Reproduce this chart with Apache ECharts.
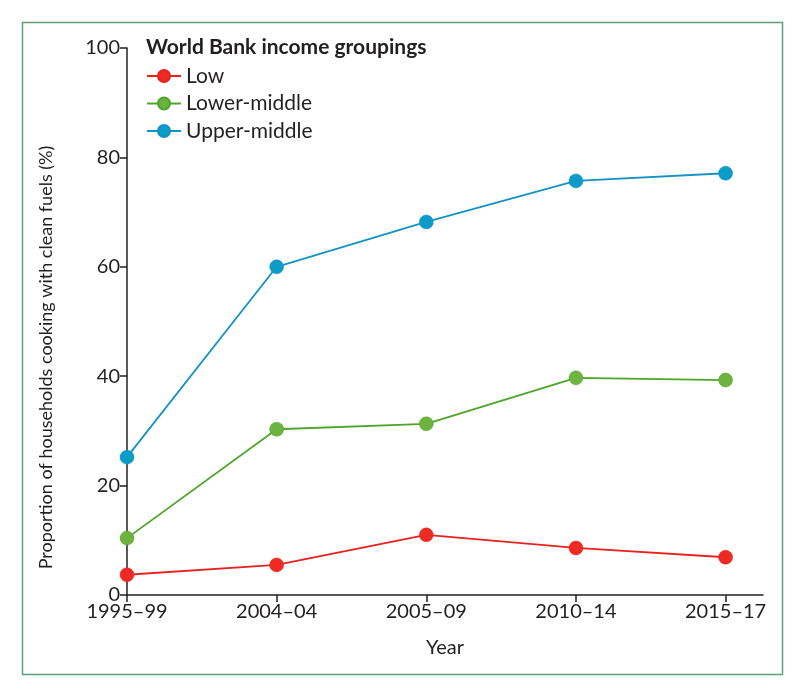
<!DOCTYPE html>
<html>
<head>
<meta charset="utf-8">
<script src="https://cdn.jsdelivr.net/npm/echarts@6/dist/echarts.min.js"></script>
<style>
html,body{margin:0;padding:0;background:#fff;}
#chart{width:800px;height:692px;}
</style>
</head>
<body>
<div id="chart"></div>
<script>
const categories = ['1995–99', '2004–04', '2005–09', '2010–14', '2015–17'];
const lowValues = [3.7, 5.5, 11.0, 8.6, 6.9];
const lowerMiddleValues = [10.4, 30.3, 31.3, 39.7, 39.3];
const upperMiddleValues = [25.2, 60.0, 68.2, 75.7, 77.1];
const yTicks = [0, 20, 40, 60, 80, 100];
const seriesNames = ['Low', 'Lower-middle', 'Upper-middle'];
const legendTitle = 'World Bank income groupings';
const yTitle = 'Proportion of households cooking with clean fuels (%)';
const xTitle = 'Year';

const FONT = 'Lato';
const TXT = '#231f20';

function pts(vals) { return vals.map((v, i) => [i, v]); }

const chart = echarts.init(document.getElementById('chart'), null, {renderer: 'canvas'});
const colors = [
  {line: '#e8221f', fill: '#ee2a24'},
  {line: '#4ea52a', fill: '#6db33f'},
  {line: '#1592c2', fill: '#0b9cc7'}
];
const allVals = [lowValues, lowerMiddleValues, upperMiddleValues];

chart.setOption({
  animation: false,
  graphic: [{
    type: 'rect', left: 20, top: 20,
    shape: {width: 760, height: 652},
    style: {fill: 'none', stroke: '#5e9e7a', lineWidth: 1.5},
    silent: true
  }],
  title: {
    text: legendTitle, left: 141, top: 31.5,
    textStyle: {fontFamily: FONT, fontWeight: 'bold', fontSize: 21, color: TXT}
  },
  legend: {
    orient: 'vertical', left: 141, top: 60.5,
    itemWidth: 34, itemHeight: 15, itemGap: 6.5,
    textStyle: {fontFamily: FONT, fontSize: 21, color: TXT},
    data: seriesNames
  },
  grid: {left: 127, right: 37, top: 48, bottom: 97, containLabel: false},
  xAxis: {
    type: 'value', min: 0, max: 4.25, interval: 1,
    name: xTitle, nameLocation: 'middle', nameGap: 43,
    nameTextStyle: {fontFamily: FONT, fontSize: 20, color: TXT},
    splitLine: {show: false},
    axisLine: {lineStyle: {color: TXT, width: 1.5}},
    axisTick: {show: true, inside: false, length: 7, lineStyle: {color: TXT, width: 1.5},
               customValues: [0, 1, 2, 3, 4]},
    axisLabel: {fontFamily: FONT, fontSize: 20, color: TXT, margin: 7,
                customValues: [0, 1, 2, 3, 4],
                formatter: v => categories[Math.round(v)] || ''}
  },
  yAxis: {
    type: 'value', min: 0, max: 100, interval: 20,
    name: yTitle, nameLocation: 'middle', nameGap: 72,
    nameTextStyle: {fontFamily: FONT, fontSize: 18, color: TXT, padding: [0, 72, 0, 0]},
    splitLine: {show: false},
    axisLine: {show: true, lineStyle: {color: TXT, width: 1.5}},
    axisTick: {show: true, length: 7, lineStyle: {color: TXT, width: 1.5}},
    axisLabel: {fontFamily: FONT, fontSize: 20, color: TXT, margin: 7,
                formatter: v => yTicks.includes(v) ? String(v) : ''}
  },
  series: seriesNames.map((n, k) => ({
    name: n, type: 'line', data: pts(allVals[k]),
    symbol: 'circle', symbolSize: 14,
    lineStyle: {color: colors[k].line, width: 1.8},
    itemStyle: {color: colors[k].fill, borderColor: colors[k].line, borderWidth: 0.5},
    z: 3 + k
  }))
});
</script>
</body>
</html>
